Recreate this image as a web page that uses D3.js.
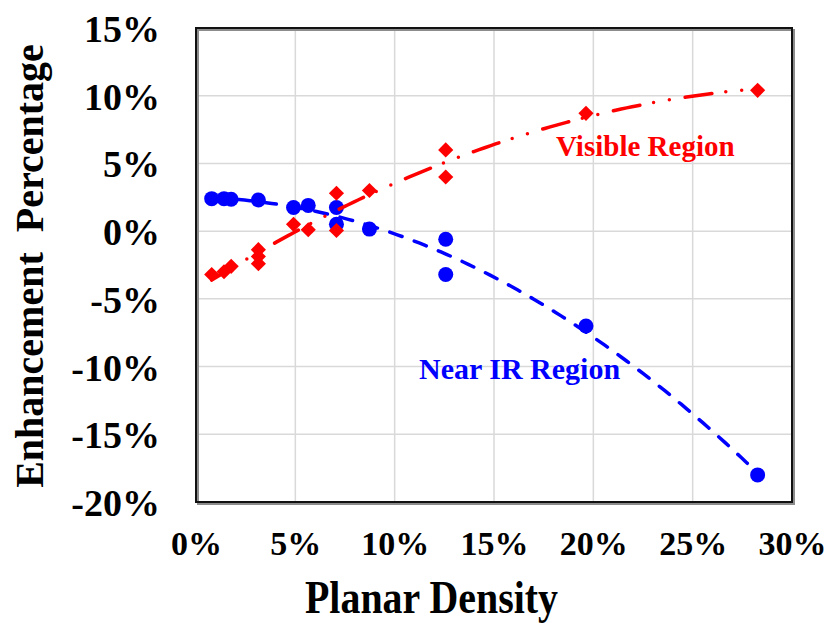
<!DOCTYPE html>
<html>
<head>
<meta charset="utf-8">
<script src="https://cdn.jsdelivr.net/npm/d3@7"></script>
<style>
  body { margin: 0; background: #fff; }
  text { font-family: "Liberation Serif", "Times New Roman", serif; font-weight: bold; }
</style>
</head>
<body>
<div id="chart-area"></div>
<script>
// planar density vs enhancement, two regions

let nearX = [0.0079, 0.0141, 0.0177, 0.0314, 0.0491, 0.0565, 0.0707, 0.0707, 0.0873, 0.1257, 0.1257, 0.1963, 0.2827];
let nearY = [0.024, 0.024, 0.0235, 0.023, 0.0175, 0.019, 0.0175, 0.005, 0.0015, -0.006, -0.032, -0.070, -0.180];

let visX = [0.0079, 0.0141, 0.0177, 0.0314, 0.0314, 0.0314, 0.0491, 0.0565, 0.0707, 0.0707, 0.0873, 0.1257, 0.1257, 0.1963, 0.2827];
let visY = [-0.032, -0.030, -0.026, -0.0137, -0.0187, -0.024, 0.005, 0.001, 0.028, 0.0005, 0.030, 0.060, 0.040, 0.087, 0.104];

let xTicks = [0, 0.05, 0.10, 0.15, 0.20, 0.25, 0.30];
let yTicks = [-0.20, -0.15, -0.10, -0.05, 0, 0.05, 0.10, 0.15];

let width = 828, height = 623;
let plotL = 196, plotR = 792, plotT = 28, plotB = 502;

let svg = d3.select("#chart-area").append("svg")
    .attr("width", width)
    .attr("height", height);

let x = d3.scaleLinear().domain([0, 0.30]).range([plotL, plotR]);
let y = d3.scaleLinear().domain([-0.20, 0.15]).range([plotB, plotT]);

// plain hyphen for negatives, like the original
let pct = d => d3.format(".0%")(d).replace("\u2212", "-");

// grid
svg.append("g").selectAll("line")
    .data(xTicks.slice(1, -1))
    .enter().append("line")
    .attr("x1", d => x(d)).attr("x2", d => x(d))
    .attr("y1", plotT).attr("y2", plotB)
    .attr("stroke", "#d9d9d9").attr("stroke-width", 1.5);

svg.append("g").selectAll("line")
    .data(yTicks.slice(1, -1))
    .enter().append("line")
    .attr("x1", plotL).attr("x2", plotR)
    .attr("y1", d => y(d)).attr("y2", d => y(d))
    .attr("stroke", "#d9d9d9").attr("stroke-width", 1.5);

// frame with a little shadow
svg.append("rect")
    .attr("x", plotL + 2).attr("y", plotT + 2)
    .attr("width", plotR - plotL).attr("height", plotB - plotT)
    .attr("fill", "none").attr("stroke", "#8c8c8c").attr("stroke-width", 2);
svg.append("rect")
    .attr("x", plotL).attr("y", plotT)
    .attr("width", plotR - plotL).attr("height", plotB - plotT)
    .attr("fill", "none").attr("stroke", "#111").attr("stroke-width", 2);

// axes (labels only)
let xAxis = d3.axisBottom(x).tickValues(xTicks).tickFormat(pct).tickSize(0);
let yAxis = d3.axisLeft(y).tickValues(yTicks).tickFormat(pct).tickSize(0);

let gx = svg.append("g")
    .attr("transform", "translate(0," + plotB + ")")
    .call(xAxis);
gx.select(".domain").remove();
gx.selectAll("text")
    .attr("y", 53).attr("dy", null)
    .style("font-size", "34px").attr("fill", "#000");

let gy = svg.append("g")
    .attr("transform", "translate(160,0)")
    .call(yAxis);
gy.select(".domain").remove();
gy.selectAll("text")
    .attr("x", 0).attr("dy", "13.5px")
    .style("font-size", "38px").attr("fill", "#000");

// axis titles
svg.append("text")
    .attr("x", 305).attr("y", 613)
    .attr("textLength", 253).attr("lengthAdjust", "spacingAndGlyphs")
    .style("font-size", "47px")
    .text("Planar Density");

svg.append("text")
    .attr("transform", "translate(43,266) rotate(-90)")
    .attr("text-anchor", "middle")
    .style("font-size", "40px")
    .style("white-space", "pre")
    .text("Enhancement  Percentage");

// 2nd order trendline (least squares)
function polyFit(xs, ys) {
    let s = [0, 0, 0, 0, 0], t = [0, 0, 0];
    xs.forEach((xv, i) => {
        for (let k = 0; k < 5; k++) s[k] += Math.pow(xv, k);
        for (let k = 0; k < 3; k++) t[k] += ys[i] * Math.pow(xv, k);
    });
    let m = [[s[0], s[1], s[2], t[0]], [s[1], s[2], s[3], t[1]], [s[2], s[3], s[4], t[2]]];
    for (let i = 0; i < 3; i++) {
        for (let j = i + 1; j < 3; j++) {
            let f = m[j][i] / m[i][i];
            for (let k = i; k < 4; k++) m[j][k] -= f * m[i][k];
        }
    }
    let c = [0, 0, 0];
    for (let i = 2; i >= 0; i--) {
        let sum = m[i][3];
        for (let k = i + 1; k < 3; k++) sum -= m[i][k] * c[k];
        c[i] = sum / m[i][i];
    }
    let lo = d3.min(xs), hi = d3.max(xs);
    return d3.range(0, 101).map(i => {
        let xv = lo + (hi - lo) * i / 100;
        return [xv, c[0] + c[1] * xv + c[2] * xv * xv];
    });
}

let line = d3.line().x(d => x(d[0])).y(d => y(d[1]));

// markers
svg.append("g").selectAll("circle")
    .data(nearX.map((d, i) => [d, nearY[i]]))
    .enter().append("circle")
    .attr("cx", d => x(d[0])).attr("cy", d => y(d[1]))
    .attr("r", 7.5)
    .attr("fill", "#0000ff");

svg.append("g").selectAll("path")
    .data(visX.map((d, i) => [d, visY[i]]))
    .enter().append("path")
    .attr("d", d3.symbol().type(d3.symbolSquare).size(115))
    .attr("transform", d => "translate(" + x(d[0]) + "," + y(d[1]) + ") rotate(45)")
    .attr("fill", "#ff0000");

// trendlines
svg.append("path")
    .datum(polyFit(nearX, nearY))
    .attr("d", line)
    .attr("fill", "none")
    .attr("stroke", "#0000ff")
    .attr("stroke-width", 3.5)
    .attr("stroke-linecap", "round")
    .attr("stroke-dasharray", "13 13");

svg.append("path")
    .datum(polyFit(visX, visY))
    .attr("d", line)
    .attr("fill", "none")
    .attr("stroke", "#ff0000")
    .attr("stroke-width", 3.5)
    .attr("stroke-linecap", "round")
    .attr("stroke-dasharray", "27 14 0 16 0 16");

// region labels
svg.append("text")
    .attr("x", 556).attr("y", 156)
    .attr("fill", "#ff0000")
    .style("font-size", "29px")
    .text("Visible Region");

svg.append("text")
    .attr("x", 419).attr("y", 379)
    .attr("fill", "#0000ff")
    .style("font-size", "30px")
    .text("Near IR Region");
</script>
</body>
</html>
